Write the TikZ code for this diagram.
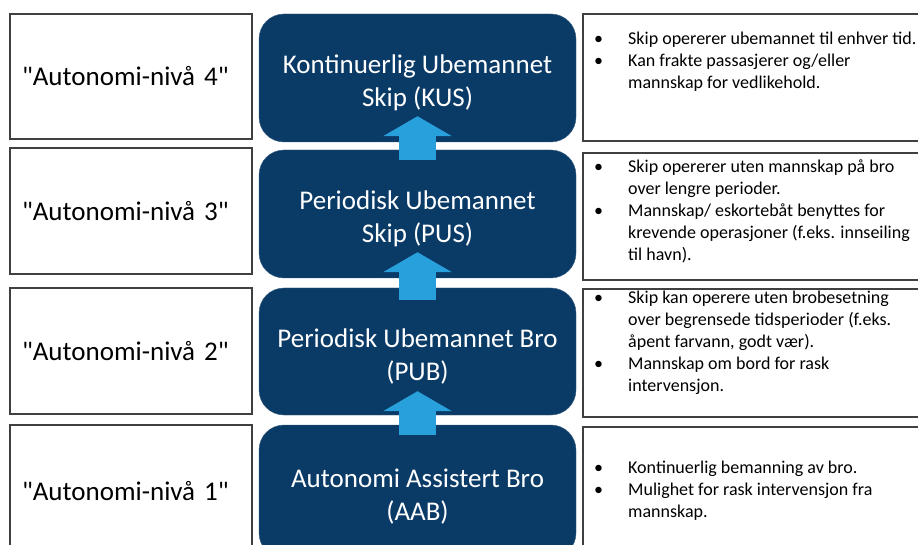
\documentclass[tikz,border=0pt]{standalone}
\usepackage{fontspec}
\setmainfont{Carlito}[Ligatures=TeXOff]
\usetikzlibrary{arrows.meta}
\definecolor{level navy}{RGB}{10,58,102}
\definecolor{step blue}{RGB}{40,160,220}
\colorlet{box edge}{black!75}
\tikzset{namebox/.style={draw=box edge, line width=1.3pt, fill=white, minimum width=242pt,
		text width=218pt, inner xsep=12pt, align=left, font=\fontsize{27}{32}\selectfont},
	levelbox/.style={fill=level navy, draw=level navy!80, rounded corners=25pt, minimum width=317pt,
		text=white, align=center, font=\fontsize{27}{33}\selectfont},
	notebox/.style={draw=box edge, line width=1.6pt, fill=white, minimum width=347pt},
	notetext/.style={anchor=west, inner sep=0pt, font=\fontsize{18}{22}\selectfont},
	uparrow/.style={draw=step blue, line width=37pt, -{Triangle[width=68pt,length=20pt]}}}
\newcommand{\bul}{\textbullet}
\newcommand{\lowr}{\rule{0pt}{29pt}}

\begin{document}
\begin{tikzpicture}[x=1pt,y=-1pt]
		\clip (0,0) rectangle (918,545);
		\fill[white] (0,0) rectangle (918,545);
		% left column
		\node[namebox, minimum height=125pt] (lvl4) at (131,76.5) {"Autonomi-nivå 4"};
		\node[namebox, minimum height=126pt] (lvl3) at (131,211) {"Autonomi-nivå 3"};
		\node[namebox, minimum height=126pt] (lvl2) at (131,351) {"Autonomi-nivå 2"};
		\node[namebox, minimum height=133pt] (lvl1) at (131,491.5) {"Autonomi-nivå 1"};
		
		% middle column
		\node[levelbox, minimum height=128pt] (kus) at (417.5,78) {\lowr Kontinuerlig Ubemannet\\Skip (KUS)};
		\node[levelbox, minimum height=128pt] (pus) at (417.5,214) {\lowr Periodisk Ubemannet\\Skip (PUS)};
		\node[levelbox, minimum height=127pt] (pub) at (417.5,351.5) {\lowr Periodisk Ubemannet Bro\\(PUB)};
		\node[levelbox, minimum height=133pt] (aab) at (417.5,491.5) {\lowr Autonomi Assistert Bro\\(AAB)};
		\draw[uparrow] ([yshift=-10pt]aab.north) -- ([yshift=24pt]pub.south);
		\draw[uparrow] ([yshift=-12pt]pub.north) -- ([yshift=26pt]pus.south);
		\draw[uparrow] ([yshift=-10pt]pus.north) -- ([yshift=26pt]kus.south);
		
		% right column
		\node[notebox, minimum height=127pt] (desc4) at (756.5,77.5) {};
		\node[notebox, minimum height=127pt] (desc3) at (756.5,216.5) {};
		\node[notebox, minimum height=128pt] (desc2) at (756.5,353) {};
		\node[notebox, minimum height=131pt] (desc1) at (756.5,492.5) {};
		\node[notetext] (note4) at (594,62.5) {\begin{tabular}{@{}p{34pt}@{}l@{}}
				\bul & Skip opererer ubemannet til enhver tid.\\
				\bul & Kan frakte passasjerer og/eller\\
				& mannskap for vedlikehold.\end{tabular}};
		\node[notetext] (note3) at (594,212.5) {\begin{tabular}{@{}p{34pt}@{}l@{}}
				\bul & Skip opererer uten mannskap på bro\\
				& over lengre perioder.\\
				\bul & Mannskap/ eskortebåt benyttes for\\
				& krevende operasjoner (f.eks. innseiling\\
				& til havn).\end{tabular}};
		\node[notetext] (note2) at (594,343) {\begin{tabular}{@{}p{34pt}@{}l@{}}
				\bul & Skip kan operere uten brobesetning\\
				& over begrensede tidsperioder (f.eks.\\
				& åpent farvann, godt vær).\\
				\bul & Mannskap om bord for rask\\
				& intervensjon.\end{tabular}};
		\node[notetext] (note1) at (594,491) {\begin{tabular}{@{}p{34pt}@{}l@{}}
				\bul & Kontinuerlig bemanning av bro.\\
				\bul & Mulighet for rask intervensjon fra\\
				& mannskap.\end{tabular}};
		\end{tikzpicture}
\end{document}
